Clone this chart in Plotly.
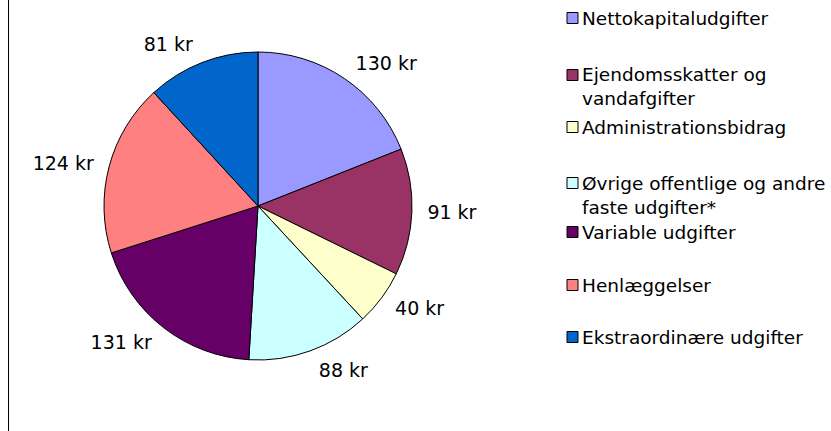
import plotly.graph_objects as go

W, H = 831, 431

categories = [
    "Nettokapitaludgifter",
    "Ejendomsskatter og<br>vandafgifter",
    "Administrationsbidrag",
    "Øvrige offentlige og andre<br>faste udgifter*",
    "Variable udgifter",
    "Henlæggelser",
    "Ekstraordinære udgifter",
]
values = [130, 91, 40, 88, 131, 124, 81]
colors = ["#9999FF", "#993366", "#FFFFCC", "#CCFFFF", "#660066", "#FF8080", "#0066CC"]

FONT = "DejaVu Sans"
FS = 18.5

# pie box in pixels: centre (258, 206), radius 154
cx, cy, r = 258, 206, 154


def dom(rad):
    return dict(x=[(cx - rad) / W, (cx + rad) / W],
                y=[1 - (cy + rad) / H, 1 - (cy - rad) / H])


fig = go.Figure()
# transparent, slightly larger pie that only carries the outside value labels
fig.add_trace(go.Pie(
    labels=categories, values=values,
    marker=dict(colors=["rgba(0,0,0,0)"] * len(values), line=dict(width=0)),
    sort=False, direction="clockwise", rotation=0,
    texttemplate="%{value} kr", textposition="outside",
    textfont=dict(family=FONT, size=19, color="black"),
    showlegend=False, automargin=False, hoverinfo="skip",
    domain=dom(r + 10),
))
fig.add_trace(go.Pie(
    labels=categories, values=values,
    marker=dict(colors=colors, line=dict(color="black", width=1)),
    sort=False, direction="clockwise", rotation=0,
    textinfo="none",
    showlegend=False, automargin=False,
    hoverinfo="label+value",
    domain=dom(r),
))

# hand-built legend on the right (square swatch + text)
legend_y = [18, 75, 127, 183, 232, 285, 337]  # pixel centre of first line
sw_x0, sw_size, txt_x = 567, 11, 580
shapes = []
annotations = []
for name, col, yc in zip(categories, colors, legend_y):
    shapes.append(dict(
        type="rect", xref="paper", yref="paper",
        x0=sw_x0 / W, x1=(sw_x0 + sw_size) / W,
        y0=1 - (yc + sw_size / 2) / H, y1=1 - (yc - sw_size / 2) / H,
        fillcolor=col, line=dict(color="black", width=1),
    ))
    annotations.append(dict(
        xref="paper", yref="paper", x=txt_x / W, y=1 - (yc - 12.5) / H,
        xanchor="left", yanchor="top", align="left", showarrow=False,
        text=name, font=dict(family=FONT, size=FS, color="black"),
    ))

# left border line
shapes.append(dict(type="line", xref="paper", yref="paper",
                   x0=8.5 / W, x1=8.5 / W, y0=0, y1=1,
                   line=dict(color="black", width=1)))

fig.update_layout(
    width=W, height=H,
    margin=dict(l=0, r=0, t=0, b=0, autoexpand=False),
    paper_bgcolor="white", plot_bgcolor="white",
    shapes=shapes, annotations=annotations,
    font=dict(family=FONT, size=FS, color="black"),
)

# drop the default page margin so the figure sits at the window's corner
fig.write_html("out.html", config={"displayModeBar": False},
               post_script="document.body.style.margin='0';")
